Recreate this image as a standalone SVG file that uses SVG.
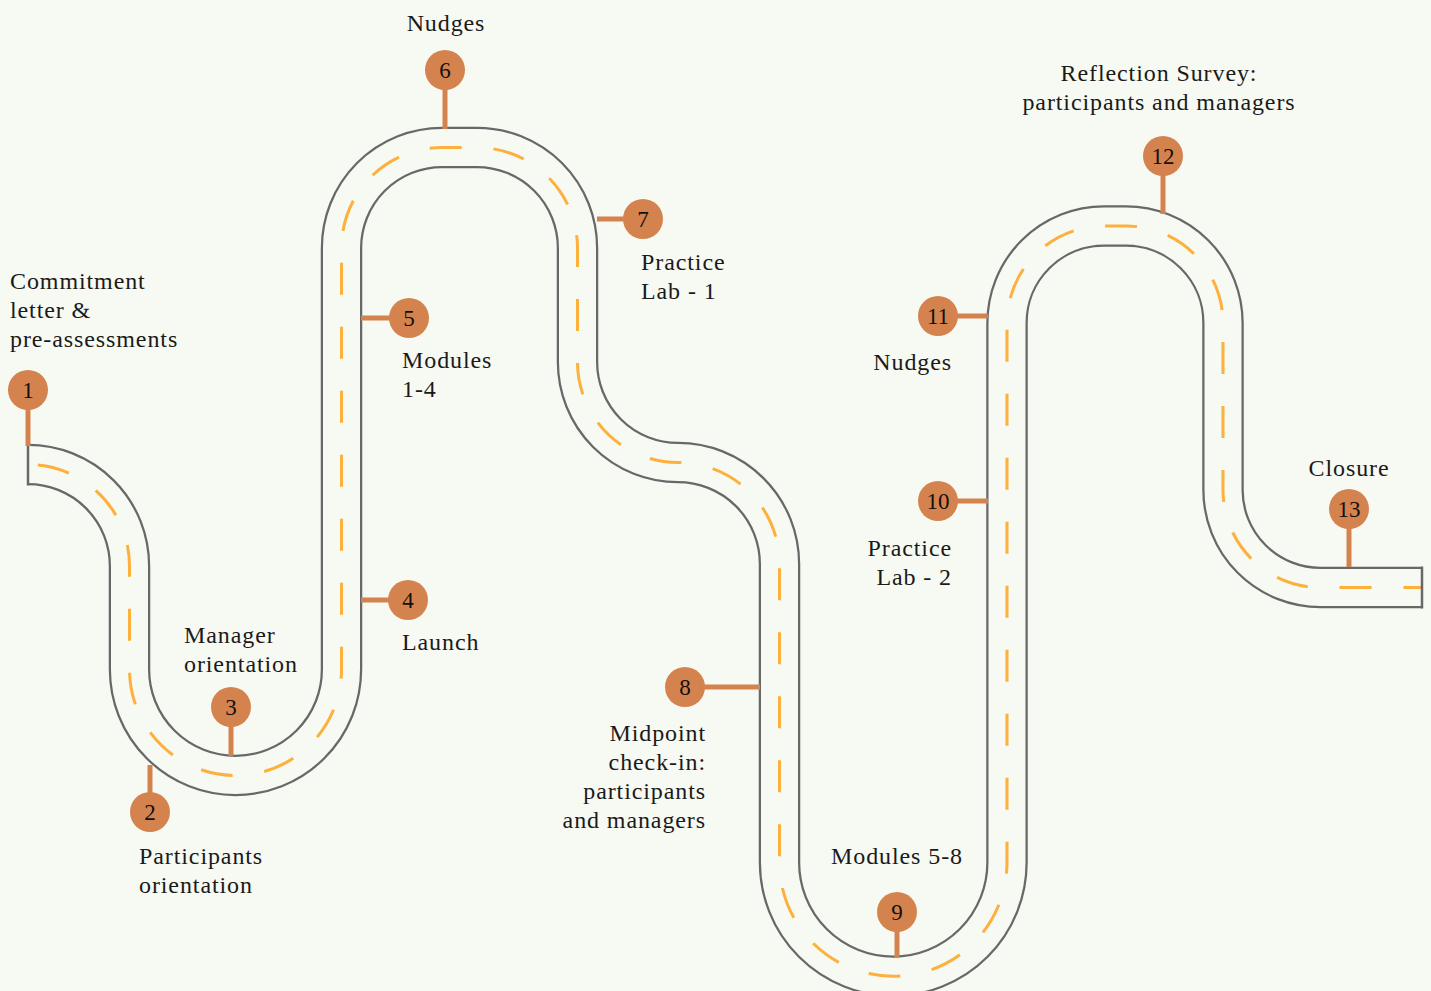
<svg xmlns="http://www.w3.org/2000/svg" width="1431" height="991" viewBox="0 0 1431 991">
<style>
.road-edge{fill:none;stroke:#686868;stroke-width:41.5;stroke-linejoin:round}
.road-fill{fill:none;stroke:#f7f9f3;stroke-width:37}
.road-dash{fill:none;stroke:#fdb03c;stroke-width:3;stroke-dasharray:32 32;stroke-dashoffset:54}
.cap{stroke:#686868;stroke-width:2.5}
.pin{fill:#d4834f}
.stem{stroke:#d4834f;stroke-width:5}
.num{font-family:"Liberation Serif",serif;font-size:23px;fill:#111;text-anchor:middle}
.lbl{font-family:"Liberation Serif",serif;font-size:24px;letter-spacing:0.9px;fill:#1a1a1a}
.mid{text-anchor:middle}
.end{text-anchor:end}
</style>
<rect width="1431" height="991" fill="#f7f9f3"/>
<g id="connectors">
<path id="road" class="road-edge" d="M28,464.5 A101.5,101.5 0 0 1 129.5,566 L129.5,669.5 A106,106 0 0 0 341.5,669.5 L341.5,248 A100.5,100.5 0 0 1 442,147.5 L477,147.5 A100.5,100.5 0 0 1 577.5,248 L577.5,362 A100.5,100.5 0 0 0 678,462.5 A101.5,101.5 0 0 1 779.5,564 L779.5,862.5 A113.75,113.75 0 0 0 1007,862.5 L1007,323 A97,97 0 0 1 1104,226 L1126,226 A97,97 0 0 1 1223,323 L1223,490 A97.5,97.5 0 0 0 1320.5,587.5 L1422,587.5"/>
<path class="road-fill" d="M28,464.5 A101.5,101.5 0 0 1 129.5,566 L129.5,669.5 A106,106 0 0 0 341.5,669.5 L341.5,248 A100.5,100.5 0 0 1 442,147.5 L477,147.5 A100.5,100.5 0 0 1 577.5,248 L577.5,362 A100.5,100.5 0 0 0 678,462.5 A101.5,101.5 0 0 1 779.5,564 L779.5,862.5 A113.75,113.75 0 0 0 1007,862.5 L1007,323 A97,97 0 0 1 1104,226 L1126,226 A97,97 0 0 1 1223,323 L1223,490 A97.5,97.5 0 0 0 1320.5,587.5 L1422,587.5"/>
<path class="road-dash" d="M28,464.5 A101.5,101.5 0 0 1 129.5,566 L129.5,669.5 A106,106 0 0 0 341.5,669.5 L341.5,248 A100.5,100.5 0 0 1 442,147.5 L477,147.5 A100.5,100.5 0 0 1 577.5,248 L577.5,362 A100.5,100.5 0 0 0 678,462.5 A101.5,101.5 0 0 1 779.5,564 L779.5,862.5 A113.75,113.75 0 0 0 1007,862.5 L1007,323 A97,97 0 0 1 1104,226 L1126,226 A97,97 0 0 1 1223,323 L1223,490 A97.5,97.5 0 0 0 1320.5,587.5 L1422,587.5"/>
<line class="cap" x1="28" y1="443.5" x2="28" y2="485.5"/>
<line class="cap" x1="1422" y1="566.5" x2="1422" y2="608.5"/>
</g>
<g id="step1"><line class="stem" x1="28" y1="400" x2="28" y2="446"/><circle class="pin" cx="28" cy="390" r="20"/><text class="num" x="28" y="398">1</text>
<text class="lbl" x="10" y="289">Commitment</text><text class="lbl" x="10" y="318">letter &amp;</text><text class="lbl" x="10" y="347">pre-assessments</text></g>
<g id="step2"><line class="stem" x1="150" y1="765" x2="150" y2="805"/><circle class="pin" cx="150" cy="812" r="20"/><text class="num" x="150" y="820">2</text>
<text class="lbl" x="139" y="864">Participants</text><text class="lbl" x="139" y="893">orientation</text></g>
<g id="step3"><line class="stem" x1="231" y1="715" x2="231" y2="756"/><circle class="pin" cx="231" cy="707" r="20"/><text class="num" x="231" y="715">3</text>
<text class="lbl" x="184" y="643">Manager</text><text class="lbl" x="184" y="672">orientation</text></g>
<g id="step4"><line class="stem" x1="361" y1="600" x2="400" y2="600"/><circle class="pin" cx="408" cy="600" r="20"/><text class="num" x="408" y="608">4</text>
<text class="lbl" x="402" y="650">Launch</text></g>
<g id="step5"><line class="stem" x1="361" y1="318" x2="400" y2="318"/><circle class="pin" cx="409" cy="318" r="20"/><text class="num" x="409" y="326">5</text>
<text class="lbl" x="402" y="368">Modules</text><text class="lbl" x="402" y="397">1-4</text></g>
<g id="step6"><line class="stem" x1="445" y1="78" x2="445" y2="129"/><circle class="pin" cx="445" cy="70" r="20"/><text class="num" x="445" y="78">6</text>
<text class="lbl mid" x="446" y="31">Nudges</text></g>
<g id="step7"><line class="stem" x1="597" y1="219" x2="635" y2="219"/><circle class="pin" cx="643" cy="219" r="20"/><text class="num" x="643" y="227">7</text>
<text class="lbl" x="641" y="270">Practice</text><text class="lbl" x="641" y="299">Lab - 1</text></g>
<g id="step8"><line class="stem" x1="693" y1="687" x2="760" y2="687"/><circle class="pin" cx="685" cy="687" r="20"/><text class="num" x="685" y="695">8</text>
<text class="lbl end" x="706" y="741">Midpoint</text><text class="lbl end" x="706" y="770">check-in:</text><text class="lbl end" x="706" y="799">participants</text><text class="lbl end" x="706" y="828">and managers</text></g>
<g id="step9"><line class="stem" x1="897" y1="920" x2="897" y2="958"/><circle class="pin" cx="897" cy="912" r="20"/><text class="num" x="897" y="920">9</text>
<text class="lbl mid" x="897" y="864">Modules 5-8</text></g>
<g id="step10"><line class="stem" x1="946" y1="501" x2="988" y2="501"/><circle class="pin" cx="938" cy="501" r="20"/><text class="num" x="938" y="509">10</text>
<text class="lbl end" x="952" y="556">Practice</text><text class="lbl end" x="952" y="585">Lab - 2</text></g>
<g id="step11"><line class="stem" x1="946" y1="316" x2="988" y2="316"/><circle class="pin" cx="938" cy="316" r="20"/><text class="num" x="938" y="324">11</text>
<text class="lbl end" x="952" y="370">Nudges</text></g>
<g id="step12"><line class="stem" x1="1163" y1="164" x2="1163" y2="214"/><circle class="pin" cx="1163" cy="156" r="20"/><text class="num" x="1163" y="164">12</text>
<text class="lbl mid" x="1159" y="81">Reflection Survey:</text><text class="lbl mid" x="1159" y="110">participants and managers</text></g>
<g id="step13"><line class="stem" x1="1349" y1="517" x2="1349" y2="567"/><circle class="pin" cx="1349" cy="509" r="20"/><text class="num" x="1349" y="517">13</text>
<text class="lbl mid" x="1349" y="476">Closure</text></g>
</svg>
